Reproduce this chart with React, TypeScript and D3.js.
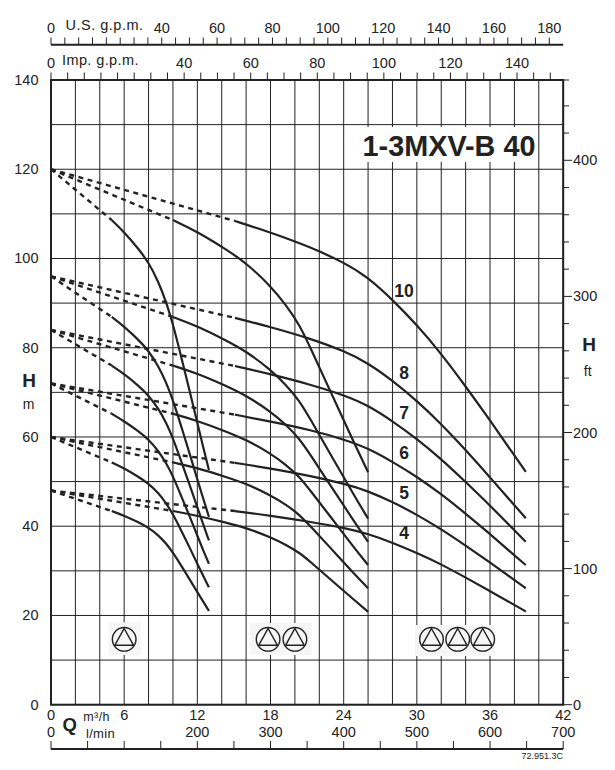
import React from "react";
import * as d3 from "d3";

const stages = [10, 8, 7, 6, 5, 4];
const shutoffHead = [120, 96, 84, 72, 60, 48];

const smallFlow = [4.98, 6.07, 7.16, 7.98, 8.8, 9.48, 10.02, 10.7, 11.39, 11.94, 12.48, 12.95];
const smallHead = [
  [108.6, 105.7, 102.2, 99.2, 94.9, 90, 85.1, 77.7, 70.1, 63.8, 57.7, 52.6],
  [86.9, 84.6, 81.8, 79.4, 75.9, 72, 68.1, 62.2, 56.1, 51, 46.2, 42.1],
  [76, 74, 71.5, 69.4, 66.4, 63, 59.6, 54.4, 49.1, 44.7, 40.4, 36.8],
  [65.2, 63.4, 61.3, 59.5, 56.9, 54, 51.1, 46.6, 42.1, 38.3, 34.6, 31.6],
  [54.3, 52.9, 51.1, 49.6, 47.5, 45, 42.6, 38.9, 35.1, 31.9, 28.9, 26.3],
  [43.4, 42.3, 40.9, 39.7, 38, 36, 34, 31.1, 28, 25.5, 23.1, 21],
];

const mediumFlow = [10, 11.94, 14.4, 16.04, 17.95, 19.3, 20.4, 21.2, 22.9, 24.9, 26];
const mediumHead = [
  [108.6, 106.1, 102, 98.9, 94, 89.5, 85, 80.4, 70.3, 58.4, 52.1],
  [86.9, 84.9, 81.6, 79.1, 75.2, 71.6, 68, 64.3, 56.2, 46.7, 41.7],
  [76, 74.3, 71.4, 69.2, 65.8, 62.7, 59.5, 56.3, 49.2, 40.9, 36.5],
  [65.2, 63.7, 61.2, 59.3, 56.4, 53.7, 51, 48.2, 42.2, 35, 31.3],
  [54.3, 53.1, 51, 49.5, 47, 44.8, 42.5, 40.2, 35.2, 29.2, 26.1],
  [43.4, 42.4, 40.8, 39.6, 37.6, 35.8, 34, 32.2, 28.1, 23.4, 20.8],
];

const largeFlow = [15.08, 17.95, 21.23, 24.1, 25.98, 28.03, 30, 31.9, 33.93, 35.98, 38.03, 38.93];
const largeHead = [
  [108.4, 105.9, 102.6, 99, 95.8, 90.7, 85.1, 79, 71.6, 63.8, 55.7, 52.2],
  [86.7, 84.7, 82.1, 79.2, 76.6, 72.6, 68.1, 63.2, 57.3, 51, 44.6, 41.8],
  [75.9, 74.1, 71.8, 69.3, 67.1, 63.5, 59.6, 55.3, 50.1, 44.7, 39, 36.5],
  [65, 63.5, 61.6, 59.4, 57.5, 54.4, 51.1, 47.4, 43, 38.3, 33.4, 31.3],
  [54.2, 53, 51.3, 49.5, 47.9, 45.4, 42.6, 39.5, 35.8, 31.9, 27.9, 26.1],
  [43.4, 42.4, 41, 39.6, 38.3, 36.3, 34, 31.6, 28.6, 25.5, 22.3, 20.9],
];

const families = [
  { flow: smallFlow, head: smallHead },
  { flow: mediumFlow, head: mediumHead },
  { flow: largeFlow, head: largeHead },
];

const headTicks = [0, 20, 40, 60, 80, 100, 120, 140];
const headGrid = d3.range(0, 141, 10);
const flowGrid = d3.range(0, 43, 2);
const flowLabels = [6, 12, 18, 24, 30, 36, 42];
const lpmLabels = [200, 300, 400, 500, 600, 700];
const lpmTicks = d3.range(0, 701, 50);
const usLabels = [40, 60, 80, 100, 120, 140, 160, 180];
const usTicks = d3.range(0, 185, 5);
const impLabels = [40, 60, 80, 100, 120, 140];
const impTicks = d3.range(0, 151, 5);
const ftLabels = [100, 200, 300, 400];
const ftTicks = d3.range(0, 441, 20);
const symbolFlows = [6, 17.8, 20, 31.2, 33.35, 35.4];

const ink = "#222";
const font = "'Liberation Sans', Arial, sans-serif";

const L = 51, R = 563.2, T = 80, B = 704.7;
const xQ = d3.scaleLinear().domain([0, 42]).range([L, R]);
const xL = d3.scaleLinear().domain([0, 700]).range([L, R]);
const xUS = d3.scaleLinear().domain([0, 180]).range([L, 549.3]);
const xImp = d3.scaleLinear().domain([0, 140]).range([L, 517]);
const yH = d3.scaleLinear().domain([0, 140]).range([B, T]);
const yFt = d3.scaleLinear().domain([0, 400]).range([B, 160.3]);

const solid = d3
  .line<[number, number]>()
  .x((d) => xQ(d[0]))
  .y((d) => yH(d[1]))
  .curve(d3.curveBasis);
const straight = d3
  .line<[number, number]>()
  .x((d) => xQ(d[0]))
  .y((d) => yH(d[1]));

const Label = ({ x, y, size = 14.5, weight = "normal", anchor = "middle", spacing = 0, children }: any) => (
  <text
    x={x}
    y={y}
    fontSize={size}
    fontWeight={weight}
    textAnchor={anchor}
    dominantBaseline="central"
    fill={ink}
    fontFamily={font}
    letterSpacing={spacing}
  >
    {children}
  </text>
);

const PumpSymbol = ({ q }: { q: number }) => {
  const cx = xQ(q);
  const cy = 639.3;
  const r = 11.8;
  return (
    <g fill="none" stroke={ink} strokeWidth={1.4}>
      <circle cx={cx} cy={cy} r={r} />
      <path d={`M${cx},${cy - r + 1} L${cx + 9.4},${cy + 6} L${cx - 9.4},${cy + 6} Z`} />
    </g>
  );
};

export default function App() {
  return (
    <svg
      width={615}
      height={770}
      viewBox="0 0 615 770"
      style={{ position: "absolute", left: 0, top: 0, background: "#fff" }}
    >
      {/* grid */}
      <g stroke={ink} strokeWidth={1}>
        {flowGrid.map((q) => (
          <line key={q} x1={xQ(q)} x2={xQ(q)} y1={T} y2={B} />
        ))}
        {headGrid.map((h) => (
          <line key={h} x1={L} x2={R} y1={yH(h)} y2={yH(h)} />
        ))}
      </g>

      {/* title */}
      <rect x={360} y={127} width={172} height={35} fill="#fff" />
      <Label x={449} y={146} size={28.8} weight="bold">
        1-3MXV-B 40
      </Label>

      {/* symbol backgrounds */}
      <rect x={109} y={622.3} width={32} height={32.7} fill="#f6f6f6" />
      <rect x={250} y={623} width={61.7} height={32} fill="#f6f6f6" />
      <rect x={415} y={625} width={80} height={31} fill="#f6f6f6" />
      {symbolFlows.map((q, i) => (
        <PumpSymbol key={i} q={q} />
      ))}

      {/* frame */}
      <g stroke={ink} fill="none">
        <rect x={L} y={T} width={R - L} height={B - T} strokeWidth={2} />
        <line x1={L} x2={R} y1={44.7} y2={44.7} strokeWidth={2} />
        <line x1={L} x2={R} y1={749} y2={749} strokeWidth={2} />
      </g>

      {/* axis ticks */}
      <g stroke={ink} strokeWidth={1}>
        {usTicks.map((v) => (
          <line key={v} x1={xUS(v)} x2={xUS(v)} y1={37.5} y2={44.7} />
        ))}
        {impTicks.map((v) => (
          <line key={v} x1={xImp(v)} x2={xImp(v)} y1={72.5} y2={T} />
        ))}
        {lpmTicks.map((v) => (
          <line key={v} x1={xL(v)} x2={xL(v)} y1={741} y2={749} />
        ))}
        {ftTicks.map((v) => (
          <line
            key={v}
            x1={R}
            x2={v % 100 === 0 ? 572 : 569}
            y1={yFt(v)}
            y2={yFt(v)}
          />
        ))}
        <line x1={R} x2={569} y1={T} y2={T} />
      </g>

      {/* curves */}
      {families.map((fam, f) =>
        stages.map((s, i) => {
          const pts = fam.flow.map((q, k) => [q, fam.head[i][k]] as [number, number]);
          return (
            <g key={`${f}-${s}`} fill="none" stroke={ink}>
              <path
                d={straight([[0, shutoffHead[i]], pts[0]]) as string}
                strokeWidth={2.4}
                strokeDasharray="5 4.5"
              />
              <path d={solid(pts) as string} strokeWidth={2.2} />
            </g>
          );
        })
      )}

      {/* stage labels */}
      {stages.map((s, i) => (
        <Label key={s} x={404} y={[290.7, 373, 412.7, 452.5, 492.5, 533][i]} size={17.5} weight="bold">
          {s}
        </Label>
      ))}

      {/* head labels */}
      {headTicks.map((h) => (
        <Label key={h} x={38.5} y={yH(h)} anchor="end">
          {h}
        </Label>
      ))}
      <Label x={29} y={380} size={19} weight="bold">H</Label>
      <Label x={28.7} y={404} size={14}>m</Label>

      {/* ft labels */}
      {ftLabels.map((v) => (
        <Label key={v} x={573} y={yFt(v)} anchor="start">
          {v}
        </Label>
      ))}
      <Label x={573} y={B} anchor="start">0</Label>
      <Label x={589} y={344} size={19} weight="bold">H</Label>
      <Label x={587.7} y={370.7} size={14}>ft</Label>

      {/* U.S. axis labels */}
      <Label x={51} y={27.7}>0</Label>
      <Label x={65.5} y={25} anchor="start" spacing={0.5}>U.S. g.p.m.</Label>
      {usLabels.map((v) => (
        <Label key={v} x={xUS(v)} y={28}>
          {v}
        </Label>
      ))}

      {/* Imp axis labels */}
      <Label x={51} y={63}>0</Label>
      <Label x={62} y={60} anchor="start" spacing={0.4}>Imp. g.p.m.</Label>
      {impLabels.map((v) => (
        <Label key={v} x={xImp(v)} y={63}>
          {v}
        </Label>
      ))}

      {/* bottom labels */}
      <Label x={51} y={715}>0</Label>
      <Label x={51} y={732}>0</Label>
      <Label x={62.5} y={724} size={18.5} weight="bold" anchor="start">Q</Label>
      <Label x={83.3} y={716.5} size={12.5} anchor="start" spacing={0.4}>m³/h</Label>
      <Label x={86} y={733} size={13} anchor="start" spacing={0.3}>l/min</Label>
      {flowLabels.map((q) => (
        <Label key={q} x={xQ(q)} y={715}>
          {q}
        </Label>
      ))}
      {lpmLabels.map((v) => (
        <Label key={v} x={xL(v)} y={732}>
          {v}
        </Label>
      ))}
      <Label x={563} y={755.7} size={9} anchor="end">72.951.3C</Label>
    </svg>
  );
}
